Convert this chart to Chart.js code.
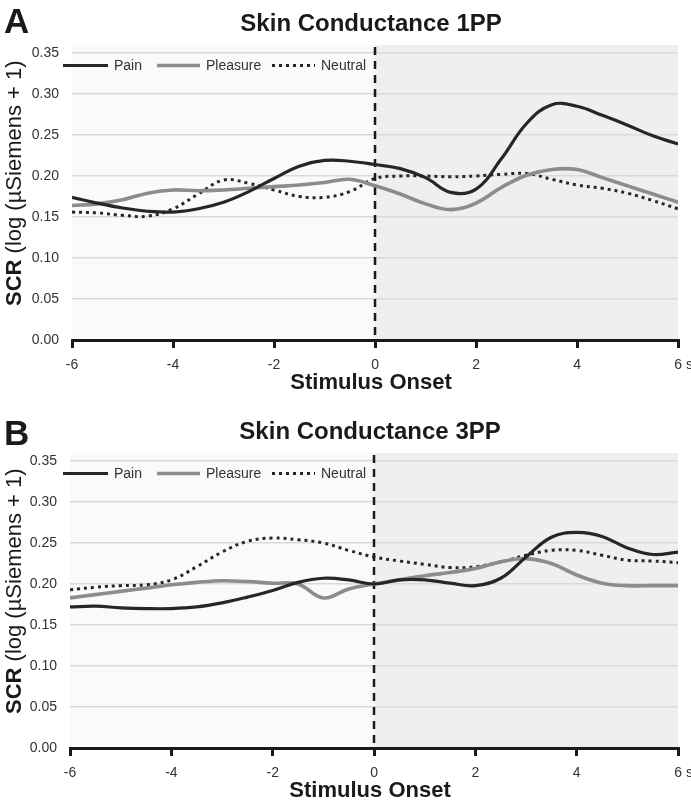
<!DOCTYPE html>
<html>
<head>
<meta charset="utf-8">
<script src="https://cdn.jsdelivr.net/npm/chart.js@4.4.1/dist/chart.umd.min.js"></script>
<style>
  html, body { margin: 0; padding: 0; background: #fff; overflow: hidden; }
  .panel { position: absolute; left: 0; width: 691px; height: 408px; }
</style>
</head>
<body>
<div class="panel" style="top:0"><canvas id="chartA"></canvas></div>
<div class="panel" style="top:408px"><canvas id="chartB"></canvas></div>
<script>
// time in seconds relative to stimulus onset
const time = [-6, -5.5, -5, -4.5, -4, -3.5, -3, -2.5, -2, -1.5, -1, -0.5, 0,
              0.5, 1, 1.5, 2, 2.5, 3, 3.5, 4, 4.5, 5, 5.5, 6];
const xTicks = [-6, -4, -2, 0, 2, 4, 6];
const yTicks = [0, 0.05, 0.10, 0.15, 0.20, 0.25, 0.30, 0.35];
const seriesNames = ['Pain', 'Pleasure', 'Neutral'];

// Panel A - 1PP
const painA     = [0.174, 0.167, 0.161, 0.157, 0.156, 0.160, 0.168, 0.181, 0.197, 0.212, 0.219, 0.218, 0.214,
                   0.209, 0.198, 0.180, 0.184, 0.221, 0.264, 0.287, 0.285, 0.274, 0.262, 0.249, 0.239];
const pleasureA = [0.164, 0.166, 0.171, 0.179, 0.183, 0.182, 0.183, 0.185, 0.187, 0.189, 0.192, 0.196, 0.188,
                   0.178, 0.166, 0.159, 0.167, 0.186, 0.201, 0.208, 0.208, 0.198, 0.188, 0.178, 0.168];
const neutralA  = [0.156, 0.155, 0.152, 0.151, 0.160, 0.178, 0.195, 0.191, 0.183, 0.175, 0.174, 0.181, 0.197,
                   0.200, 0.200, 0.199, 0.200, 0.202, 0.203, 0.196, 0.189, 0.185, 0.179, 0.170, 0.160];

// Panel B - 3PP
const painB     = [0.172, 0.173, 0.171, 0.170, 0.170, 0.172, 0.177, 0.184, 0.192, 0.202, 0.207, 0.205, 0.200,
                   0.205, 0.205, 0.201, 0.198, 0.207, 0.233, 0.257, 0.263, 0.258, 0.244, 0.236, 0.239];
const pleasureB = [0.183, 0.187, 0.191, 0.195, 0.199, 0.202, 0.204, 0.203, 0.201, 0.200, 0.183, 0.194, 0.200,
                   0.205, 0.210, 0.214, 0.219, 0.227, 0.231, 0.225, 0.211, 0.201, 0.198, 0.198, 0.198];
const neutralB  = [0.193, 0.196, 0.198, 0.199, 0.205, 0.221, 0.239, 0.252, 0.256, 0.254, 0.250, 0.241, 0.233,
                   0.228, 0.224, 0.220, 0.221, 0.227, 0.235, 0.241, 0.241, 0.235, 0.229, 0.228, 0.226];

const FONT = "'Liberation Sans', Arial, sans-serif";

// shading, onset line, titles and the in-plot legend
const decor = {
  id: 'decor',
  beforeDraw(chart) {
    const { ctx, chartArea: a, scales: { x } } = chart;
    const x0 = x.getPixelForValue(0);
    ctx.save();
    ctx.fillStyle = '#fafafa';
    ctx.fillRect(a.left, a.top - 8, x0 - a.left, a.bottom - a.top + 8);
    ctx.fillStyle = '#efefef';
    ctx.fillRect(x0, a.top - 8, a.right - x0, a.bottom - a.top + 8);
    ctx.restore();
  },
  beforeDatasetsDraw(chart) {
    const { ctx, chartArea: a, scales: { x } } = chart;
    const x0 = Math.round(x.getPixelForValue(0));
    ctx.save();
    ctx.strokeStyle = '#1a1a1a';
    ctx.lineWidth = 2.5;
    ctx.setLineDash([8, 6]);
    ctx.beginPath();
    ctx.moveTo(x0, a.top - 6);
    ctx.lineTo(x0, a.bottom);
    ctx.stroke();
    ctx.restore();
  },
  afterDraw(chart, args, opts) {
    const { ctx, chartArea: a, scales: { x } } = chart;
    const cx = (a.left + a.right) / 2 - 4;
    ctx.save();
    ctx.fillStyle = '#1a1a1a';

    // panel letter
    ctx.font = `bold 35px ${FONT}`;
    ctx.textAlign = 'left';
    ctx.textBaseline = 'alphabetic';
    ctx.fillText(opts.letter, 4, opts.letterY);

    // title
    ctx.font = `bold 24px ${FONT}`;
    ctx.textAlign = 'center';
    ctx.textBaseline = 'middle';
    ctx.fillText(opts.title, cx, 24);

    // x axis title
    ctx.font = `bold 22px ${FONT}`;
    ctx.fillText('Stimulus Onset', cx, a.bottom + 43);

    // unit after the last tick
    ctx.font = `14px ${FONT}`;
    ctx.fillStyle = '#333';
    ctx.textAlign = 'left';
    ctx.textBaseline = 'top';
    const w6 = ctx.measureText('6').width;
    ctx.fillText(' s', x.getPixelForValue(6) + w6 / 2, a.bottom + 18);

    // y axis title, bold SCR then regular rest
    ctx.save();
    ctx.translate(21, 306);
    ctx.rotate(-Math.PI / 2);
    ctx.fillStyle = '#1a1a1a';
    ctx.textAlign = 'left';
    ctx.textBaseline = 'alphabetic';
    ctx.font = `bold 22px ${FONT}`;
    ctx.fillText('SCR', 0, 0);
    const ws = ctx.measureText('SCR').width;
    ctx.font = `22px ${FONT}`;
    ctx.fillText(' (log (\u00b5Siemens + 1)', ws, 0);
    ctx.restore();

    // legend
    const ly = 65.5;
    chart.data.datasets.forEach((ds, i) => {
      const [x1, x2] = opts.legendX[i];
      ctx.save();
      ctx.strokeStyle = ds.borderColor;
      ctx.lineWidth = ds.borderWidth;
      ctx.setLineDash(ds.borderDash || []);
      ctx.beginPath();
      ctx.moveTo(x1, ly);
      ctx.lineTo(x2, ly);
      ctx.stroke();
      ctx.restore();
      ctx.font = `14px ${FONT}`;
      ctx.fillStyle = '#333';
      ctx.textAlign = 'left';
      ctx.textBaseline = 'middle';
      ctx.fillText(ds.label, x2 + 6, ly + 1);
    });
    ctx.restore();
  }
};

function makePanel(id, letter, letterY, title, pain, pleasure, neutral, padL, padR) {
  const pts = vals => time.map((t, i) => ({ x: t, y: vals[i] }));
  return new Chart(document.getElementById(id), {
    type: 'line',
    data: {
      datasets: [
        { label: seriesNames[0], data: pts(pain), borderColor: '#262626', borderWidth: 3.2 },
        { label: seriesNames[1], data: pts(pleasure), borderColor: '#8c8c8c', borderWidth: 3.6 },
        { label: seriesNames[2], data: pts(neutral), borderColor: '#262626', borderWidth: 3, borderDash: [3, 4] }
      ]
    },
    options: {
      responsive: true,
      maintainAspectRatio: false,
      animation: false,
      events: [],
      layout: { padding: { left: 0, right: padR, top: 53, bottom: 0 } },
      elements: { point: { radius: 0 }, line: { tension: 0.4, fill: false } },
      plugins: {
        legend: { display: false },
        tooltip: { enabled: false },
        decor: { letter, letterY, title, legendX: [[63, 108], [157, 200], [272, 315]] }
      },
      scales: {
        x: {
          type: 'linear',
          min: -6, max: 6,
          afterBuildTicks: s => { s.ticks = xTicks.map(v => ({ value: v })); },
          afterFit: s => { s.height = 68; },
          grid: { drawOnChartArea: false, drawTicks: true, tickLength: 8, color: '#1a1a1a', lineWidth: 3 },
          border: { display: true, color: '#1a1a1a', width: 3 },
          ticks: { color: '#333', font: { family: FONT, size: 14 }, padding: 9, maxRotation: 0 }
        },
        y: {
          min: 0, max: 0.35,
          afterBuildTicks: s => { s.ticks = yTicks.map(v => ({ value: v })); },
          afterFit: s => { s.width = padL; },
          grid: { color: '#d9d9d9', lineWidth: 1.5, drawTicks: false },
          border: { display: false },
          ticks: { color: '#333', font: { family: FONT, size: 14 }, padding: 13,
                   callback: v => v.toFixed(2) }
        }
      }
    },
    plugins: [decor]
  });
}

makePanel('chartA', 'A', 33, 'Skin Conductance 1PP', painA, pleasureA, neutralA, 72, 11);
makePanel('chartB', 'B', 37, 'Skin Conductance 3PP', painB, pleasureB, neutralB, 70, 12);
</script>
</body>
</html>
